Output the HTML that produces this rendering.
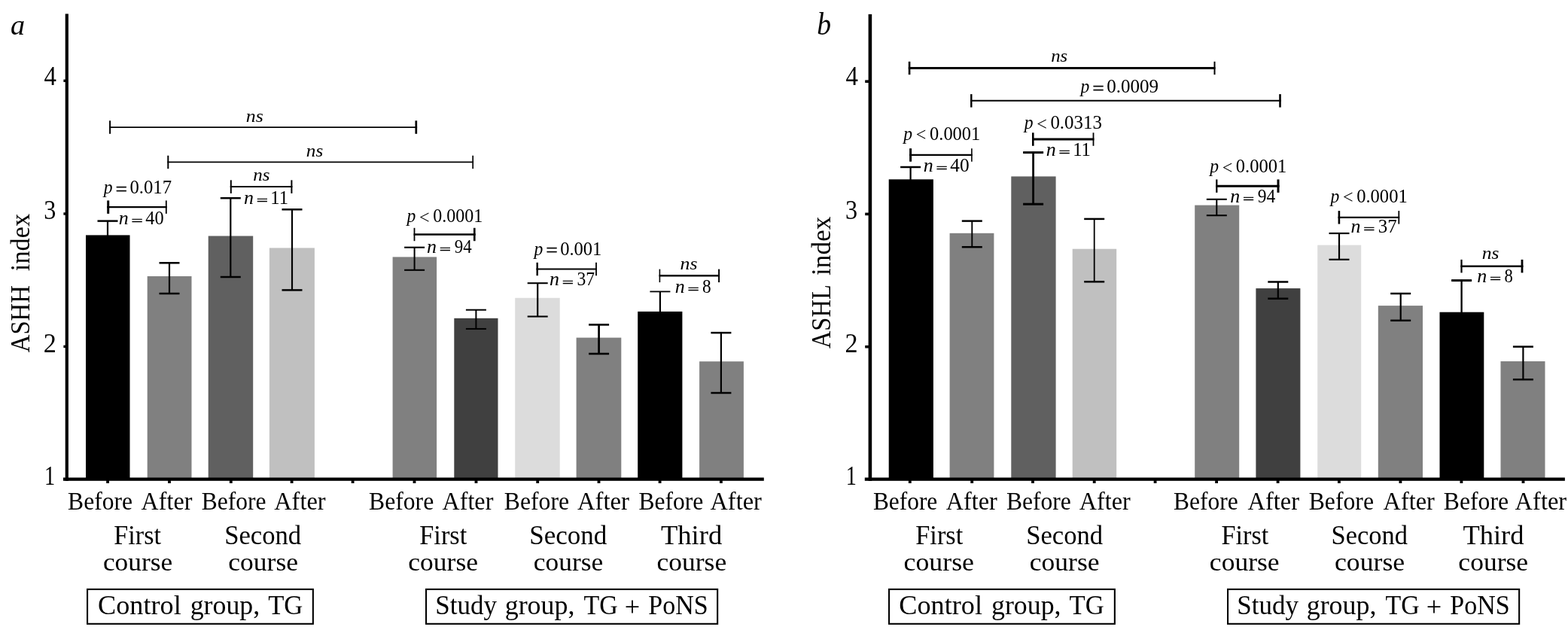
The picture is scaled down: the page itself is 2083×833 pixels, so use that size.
<!DOCTYPE html>
<html lang="en">
<head>
<meta charset="utf-8">
<title>ASHH and ASHL index charts</title>
<style>
html, body { margin: 0; padding: 0; background: #ffffff; }
body { width: 2083px; height: 833px; overflow: hidden; }
svg { display: block; }
svg text { font-family: "Liberation Serif", "DejaVu Serif", serif; fill: #000; }
</style>
</head>
<body>
<svg width="2083" height="833" viewBox="0 0 2083 833">
<rect x="0" y="0" width="2083" height="833" fill="#ffffff"/>
<rect x="114.0" y="312.4" width="58.5" height="323.4" fill="#000000"/>
<rect x="195.7" y="367.0" width="58.8" height="268.8" fill="#808080"/>
<rect x="276.7" y="313.5" width="59.5" height="322.3" fill="#606060"/>
<rect x="357.9" y="329.4" width="60.0" height="306.4" fill="#c0c0c0"/>
<rect x="521.6" y="341.4" width="58.5" height="294.4" fill="#808080"/>
<rect x="603.3" y="422.8" width="58.2" height="213.0" fill="#404040"/>
<rect x="684.2" y="395.8" width="59.5" height="240.0" fill="#dcdcdc"/>
<rect x="765.6" y="448.6" width="59.7" height="187.2" fill="#808080"/>
<rect x="847.2" y="413.9" width="59.2" height="221.9" fill="#000000"/>
<rect x="929.1" y="480.2" width="58.8" height="155.6" fill="#808080"/>
<rect x="1180.7" y="238.3" width="59.2" height="397.5" fill="#000000"/>
<rect x="1261.6" y="309.8" width="58.8" height="326.0" fill="#808080"/>
<rect x="1343.3" y="234.4" width="59.3" height="401.4" fill="#606060"/>
<rect x="1424.7" y="330.7" width="58.5" height="305.1" fill="#c0c0c0"/>
<rect x="1587.2" y="272.6" width="59.0" height="363.2" fill="#808080"/>
<rect x="1668.4" y="383.1" width="59.0" height="252.7" fill="#404040"/>
<rect x="1750.2" y="325.6" width="58.0" height="310.2" fill="#dcdcdc"/>
<rect x="1830.8" y="406.1" width="59.2" height="229.7" fill="#808080"/>
<rect x="1912.5" y="414.7" width="58.8" height="221.1" fill="#000000"/>
<rect x="1993.5" y="480.0" width="59.0" height="155.8" fill="#808080"/>
<rect x="86.7" y="18.4" width="4.2" height="620.6" fill="#000000"/>
<rect x="84.0" y="634.5" width="930.8" height="4.3" fill="#000000"/>
<rect x="84.4" y="105.6" width="3.6" height="3.4" fill="#000000"/>
<rect x="84.4" y="282.3" width="3.6" height="3.4" fill="#000000"/>
<rect x="84.4" y="458.7" width="3.6" height="3.4" fill="#000000"/>
<rect x="141.2" y="638.0" width="3.8" height="4.0" fill="#000000"/>
<rect x="223.1" y="638.0" width="3.8" height="4.0" fill="#000000"/>
<rect x="304.9" y="638.0" width="3.8" height="4.0" fill="#000000"/>
<rect x="385.7" y="638.0" width="3.8" height="4.0" fill="#000000"/>
<rect x="466.7" y="638.0" width="3.8" height="4.0" fill="#000000"/>
<rect x="548.6" y="638.0" width="3.8" height="4.0" fill="#000000"/>
<rect x="630.6" y="638.0" width="3.8" height="4.0" fill="#000000"/>
<rect x="712.3" y="638.0" width="3.8" height="4.0" fill="#000000"/>
<rect x="793.6" y="638.0" width="3.8" height="4.0" fill="#000000"/>
<rect x="874.7" y="638.0" width="3.8" height="4.0" fill="#000000"/>
<rect x="956.0" y="638.0" width="3.8" height="4.0" fill="#000000"/>
<rect x="1153.6" y="18.9" width="4.6" height="620.1" fill="#000000"/>
<rect x="1148.8" y="634.5" width="930.1" height="4.3" fill="#000000"/>
<rect x="1149.2" y="106.4" width="5.8" height="3.6" fill="#000000"/>
<rect x="1149.2" y="282.6" width="5.8" height="3.6" fill="#000000"/>
<rect x="1149.2" y="458.9" width="5.8" height="3.6" fill="#000000"/>
<rect x="1206.9" y="638.0" width="3.8" height="4.0" fill="#000000"/>
<rect x="1289.3" y="638.0" width="3.8" height="4.0" fill="#000000"/>
<rect x="1370.1" y="638.0" width="3.8" height="4.0" fill="#000000"/>
<rect x="1451.8" y="638.0" width="3.8" height="4.0" fill="#000000"/>
<rect x="1532.7" y="638.0" width="3.8" height="4.0" fill="#000000"/>
<rect x="1614.2" y="638.0" width="3.8" height="4.0" fill="#000000"/>
<rect x="1695.7" y="638.0" width="3.8" height="4.0" fill="#000000"/>
<rect x="1777.0" y="638.0" width="3.8" height="4.0" fill="#000000"/>
<rect x="1858.5" y="638.0" width="3.8" height="4.0" fill="#000000"/>
<rect x="1939.5" y="638.0" width="3.8" height="4.0" fill="#000000"/>
<rect x="2021.6" y="638.0" width="3.8" height="4.0" fill="#000000"/>
<line x1="143.0" y1="293.6" x2="143.0" y2="313.4" stroke="#000" stroke-width="2.2"/>
<line x1="129.5" y1="293.6" x2="156.5" y2="293.6" stroke="#000" stroke-width="2.5"/>
<line x1="225.0" y1="349.3" x2="225.0" y2="390.0" stroke="#000" stroke-width="2.2"/>
<line x1="211.5" y1="349.3" x2="238.5" y2="349.3" stroke="#000" stroke-width="2.5"/>
<line x1="211.5" y1="390.0" x2="238.5" y2="390.0" stroke="#000" stroke-width="2.5"/>
<line x1="306.3" y1="263.2" x2="306.3" y2="368.0" stroke="#000" stroke-width="2.2"/>
<line x1="292.8" y1="263.2" x2="319.8" y2="263.2" stroke="#000" stroke-width="2.5"/>
<line x1="292.8" y1="368.0" x2="319.8" y2="368.0" stroke="#000" stroke-width="2.5"/>
<line x1="388.0" y1="278.3" x2="388.0" y2="385.4" stroke="#000" stroke-width="2.2"/>
<line x1="374.5" y1="278.3" x2="401.5" y2="278.3" stroke="#000" stroke-width="2.5"/>
<line x1="374.5" y1="385.4" x2="401.5" y2="385.4" stroke="#000" stroke-width="2.5"/>
<line x1="550.6" y1="328.7" x2="550.6" y2="358.8" stroke="#000" stroke-width="2.0"/>
<line x1="537.1" y1="328.7" x2="564.1" y2="328.7" stroke="#000" stroke-width="2.1"/>
<line x1="537.1" y1="358.8" x2="564.1" y2="358.8" stroke="#000" stroke-width="2.1"/>
<line x1="632.4" y1="411.7" x2="632.4" y2="436.9" stroke="#000" stroke-width="2.0"/>
<line x1="618.9" y1="411.7" x2="645.9" y2="411.7" stroke="#000" stroke-width="2.0"/>
<line x1="618.9" y1="436.9" x2="645.9" y2="436.9" stroke="#000" stroke-width="2.0"/>
<line x1="714.2" y1="376.2" x2="714.2" y2="420.5" stroke="#000" stroke-width="2.2"/>
<line x1="700.7" y1="376.2" x2="727.7" y2="376.2" stroke="#000" stroke-width="2.1"/>
<line x1="700.7" y1="420.5" x2="727.7" y2="420.5" stroke="#000" stroke-width="2.1"/>
<line x1="795.6" y1="431.4" x2="795.6" y2="470.0" stroke="#000" stroke-width="2.7"/>
<line x1="782.1" y1="431.4" x2="809.1" y2="431.4" stroke="#000" stroke-width="2.6"/>
<line x1="782.1" y1="470.0" x2="809.1" y2="470.0" stroke="#000" stroke-width="2.6"/>
<line x1="876.9" y1="387.4" x2="876.9" y2="414.9" stroke="#000" stroke-width="2.2"/>
<line x1="863.4" y1="387.4" x2="890.4" y2="387.4" stroke="#000" stroke-width="1.8"/>
<line x1="957.9" y1="442.1" x2="957.9" y2="522.0" stroke="#000" stroke-width="2.2"/>
<line x1="944.4" y1="442.1" x2="971.4" y2="442.1" stroke="#000" stroke-width="2.5"/>
<line x1="944.4" y1="522.0" x2="971.4" y2="522.0" stroke="#000" stroke-width="2.5"/>
<line x1="1209.6" y1="222.0" x2="1209.6" y2="239.3" stroke="#000" stroke-width="2.2"/>
<line x1="1196.1" y1="222.0" x2="1223.1" y2="222.0" stroke="#000" stroke-width="2.5"/>
<line x1="1291.3" y1="293.6" x2="1291.3" y2="328.2" stroke="#000" stroke-width="1.9"/>
<line x1="1277.8" y1="293.6" x2="1304.8" y2="293.6" stroke="#000" stroke-width="2.5"/>
<line x1="1277.8" y1="328.2" x2="1304.8" y2="328.2" stroke="#000" stroke-width="2.5"/>
<line x1="1372.6" y1="202.6" x2="1372.6" y2="271.2" stroke="#000" stroke-width="2.8"/>
<line x1="1359.1" y1="202.6" x2="1386.1" y2="202.6" stroke="#000" stroke-width="3.0"/>
<line x1="1359.1" y1="271.2" x2="1386.1" y2="271.2" stroke="#000" stroke-width="3.0"/>
<line x1="1453.7" y1="290.9" x2="1453.7" y2="374.3" stroke="#000" stroke-width="1.8"/>
<line x1="1440.2" y1="290.9" x2="1467.2" y2="290.9" stroke="#000" stroke-width="2.5"/>
<line x1="1440.2" y1="374.3" x2="1467.2" y2="374.3" stroke="#000" stroke-width="2.5"/>
<line x1="1616.3" y1="264.8" x2="1616.3" y2="286.2" stroke="#000" stroke-width="2.0"/>
<line x1="1602.8" y1="264.8" x2="1629.8" y2="264.8" stroke="#000" stroke-width="2.1"/>
<line x1="1602.8" y1="286.2" x2="1629.8" y2="286.2" stroke="#000" stroke-width="2.1"/>
<line x1="1697.8" y1="374.5" x2="1697.8" y2="396.7" stroke="#000" stroke-width="2.2"/>
<line x1="1684.3" y1="374.5" x2="1711.3" y2="374.5" stroke="#000" stroke-width="2.5"/>
<line x1="1684.3" y1="396.7" x2="1711.3" y2="396.7" stroke="#000" stroke-width="2.5"/>
<line x1="1779.0" y1="310.0" x2="1779.0" y2="344.8" stroke="#000" stroke-width="2.2"/>
<line x1="1765.5" y1="310.0" x2="1792.5" y2="310.0" stroke="#000" stroke-width="2.2"/>
<line x1="1765.5" y1="344.8" x2="1792.5" y2="344.8" stroke="#000" stroke-width="2.2"/>
<line x1="1860.7" y1="390.0" x2="1860.7" y2="425.8" stroke="#000" stroke-width="2.2"/>
<line x1="1847.2" y1="390.0" x2="1874.2" y2="390.0" stroke="#000" stroke-width="2.5"/>
<line x1="1847.2" y1="425.8" x2="1874.2" y2="425.8" stroke="#000" stroke-width="2.5"/>
<line x1="1941.6" y1="372.6" x2="1941.6" y2="415.7" stroke="#000" stroke-width="2.3"/>
<line x1="1928.1" y1="372.6" x2="1955.1" y2="372.6" stroke="#000" stroke-width="3.0"/>
<line x1="2023.4" y1="460.6" x2="2023.4" y2="504.2" stroke="#000" stroke-width="2.2"/>
<line x1="2009.9" y1="460.6" x2="2036.9" y2="460.6" stroke="#000" stroke-width="2.5"/>
<line x1="2009.9" y1="504.2" x2="2036.9" y2="504.2" stroke="#000" stroke-width="2.5"/>
<line x1="145.1" y1="169.1" x2="554.1" y2="169.1" stroke="#000" stroke-width="1.9"/>
<line x1="146.1" y1="160.3" x2="146.1" y2="177.8" stroke="#000" stroke-width="2.0"/>
<line x1="552.8" y1="160.3" x2="552.8" y2="177.8" stroke="#000" stroke-width="2.7"/>
<line x1="222.3" y1="215.4" x2="629.1" y2="215.4" stroke="#000" stroke-width="1.9"/>
<line x1="223.3" y1="206.7" x2="223.3" y2="224.2" stroke="#000" stroke-width="2.0"/>
<line x1="628.2" y1="206.7" x2="628.2" y2="224.2" stroke="#000" stroke-width="1.7"/>
<line x1="305.8" y1="248.1" x2="388.4" y2="248.1" stroke="#000" stroke-width="2.0"/>
<line x1="306.8" y1="239.3" x2="306.8" y2="256.9" stroke="#000" stroke-width="2.0"/>
<line x1="387.4" y1="239.3" x2="387.4" y2="256.9" stroke="#000" stroke-width="2.0"/>
<line x1="142.2" y1="275.2" x2="221.7" y2="275.2" stroke="#000" stroke-width="2.3"/>
<line x1="143.7" y1="266.4" x2="143.7" y2="283.9" stroke="#000" stroke-width="3.0"/>
<line x1="220.8" y1="266.4" x2="220.8" y2="283.9" stroke="#000" stroke-width="1.8"/>
<line x1="549.6" y1="311.5" x2="631.6" y2="311.5" stroke="#000" stroke-width="2.6"/>
<line x1="550.5" y1="302.8" x2="550.5" y2="320.2" stroke="#000" stroke-width="1.8"/>
<line x1="630.3" y1="302.8" x2="630.3" y2="320.2" stroke="#000" stroke-width="2.6"/>
<line x1="712.5" y1="357.5" x2="792.9" y2="357.5" stroke="#000" stroke-width="2.2"/>
<line x1="713.7" y1="348.8" x2="713.7" y2="366.2" stroke="#000" stroke-width="2.4"/>
<line x1="792.0" y1="348.8" x2="792.0" y2="366.2" stroke="#000" stroke-width="1.8"/>
<line x1="875.6" y1="366.3" x2="956.1" y2="366.3" stroke="#000" stroke-width="2.6"/>
<line x1="876.4" y1="357.6" x2="876.4" y2="375.1" stroke="#000" stroke-width="1.6"/>
<line x1="955.1" y1="357.6" x2="955.1" y2="375.1" stroke="#000" stroke-width="2.0"/>
<line x1="1206.8" y1="90.5" x2="1614.5" y2="90.5" stroke="#000" stroke-width="3.0"/>
<line x1="1208.1" y1="81.8" x2="1208.1" y2="99.2" stroke="#000" stroke-width="2.6"/>
<line x1="1613.5" y1="81.8" x2="1613.5" y2="99.2" stroke="#000" stroke-width="2.0"/>
<line x1="1289.1" y1="133.8" x2="1701.8" y2="133.8" stroke="#000" stroke-width="2.0"/>
<line x1="1290.3" y1="125.1" x2="1290.3" y2="142.6" stroke="#000" stroke-width="2.4"/>
<line x1="1700.5" y1="125.1" x2="1700.5" y2="142.6" stroke="#000" stroke-width="2.6"/>
<line x1="1208.1" y1="205.9" x2="1291.7" y2="205.9" stroke="#000" stroke-width="2.2"/>
<line x1="1209.6" y1="197.2" x2="1209.6" y2="214.7" stroke="#000" stroke-width="3.0"/>
<line x1="1290.9" y1="197.2" x2="1290.9" y2="214.7" stroke="#000" stroke-width="1.6"/>
<line x1="1371.0" y1="185.1" x2="1453.4" y2="185.1" stroke="#000" stroke-width="3.0"/>
<line x1="1372.3" y1="176.3" x2="1372.3" y2="193.8" stroke="#000" stroke-width="2.6"/>
<line x1="1452.5" y1="176.3" x2="1452.5" y2="193.8" stroke="#000" stroke-width="1.8"/>
<line x1="1615.2" y1="247.2" x2="1699.5" y2="247.2" stroke="#000" stroke-width="3.0"/>
<line x1="1616.3" y1="238.4" x2="1616.3" y2="255.9" stroke="#000" stroke-width="2.2"/>
<line x1="1698.0" y1="238.4" x2="1698.0" y2="255.9" stroke="#000" stroke-width="3.0"/>
<line x1="1777.6" y1="288.8" x2="1859.2" y2="288.8" stroke="#000" stroke-width="2.2"/>
<line x1="1778.9" y1="280.1" x2="1778.9" y2="297.6" stroke="#000" stroke-width="2.6"/>
<line x1="1858.3" y1="280.1" x2="1858.3" y2="297.6" stroke="#000" stroke-width="1.8"/>
<line x1="1940.4" y1="353.7" x2="2023.4" y2="353.7" stroke="#000" stroke-width="2.4"/>
<line x1="1941.5" y1="344.9" x2="1941.5" y2="362.4" stroke="#000" stroke-width="2.2"/>
<line x1="2022.0" y1="344.9" x2="2022.0" y2="362.4" stroke="#000" stroke-width="2.8"/>
<text x="326.89" y="161.60" font-size="23" textLength="22.98" lengthAdjust="spacingAndGlyphs"><tspan font-style="italic">ns</tspan></text>
<text x="406.81" y="207.70" font-size="23" textLength="22.44" lengthAdjust="spacingAndGlyphs"><tspan font-style="italic">ns</tspan></text>
<text x="336.22" y="240.30" font-size="23" textLength="22.23" lengthAdjust="spacingAndGlyphs"><tspan font-style="italic">ns</tspan></text>
<text><tspan x="137.77" y="257.20" font-size="26" font-style="italic" textLength="11.79" lengthAdjust="spacingAndGlyphs">p</tspan> <tspan x="153.50" y="259.00" font-size="22.3" stroke="#000" stroke-width="0.3" textLength="15.64" lengthAdjust="spacingAndGlyphs">=</tspan> <tspan x="172.43" y="257.20" font-size="25.3" textLength="55.56" lengthAdjust="spacingAndGlyphs">0.017</tspan></text>
<text><tspan x="157.89" y="297.50" font-size="25" font-style="italic" textLength="12.97" lengthAdjust="spacingAndGlyphs">n</tspan> <tspan x="174.64" y="298.70" font-size="16.5" stroke="#000" stroke-width="0.45" textLength="15.16" lengthAdjust="spacingAndGlyphs">=</tspan> <tspan x="193.32" y="297.50" font-size="24.3" textLength="24.34" lengthAdjust="spacingAndGlyphs">40</tspan></text>
<text><tspan x="324.09" y="270.50" font-size="25" font-style="italic" textLength="12.97" lengthAdjust="spacingAndGlyphs">n</tspan> <tspan x="340.84" y="271.70" font-size="16.5" stroke="#000" stroke-width="0.45" textLength="15.16" lengthAdjust="spacingAndGlyphs">=</tspan> <tspan x="359.38" y="270.50" font-size="24.3" textLength="23.67" lengthAdjust="spacingAndGlyphs">11</tspan></text>
<text><tspan x="540.57" y="295.00" font-size="26" font-style="italic" textLength="11.79" lengthAdjust="spacingAndGlyphs">p</tspan> <tspan x="557.07" y="296.50" font-size="25.3" textLength="13.60" lengthAdjust="spacingAndGlyphs">&lt;</tspan> <tspan x="575.25" y="295.00" font-size="25.3" textLength="66.08" lengthAdjust="spacingAndGlyphs">0.0001</tspan></text>
<text><tspan x="566.99" y="335.60" font-size="25" font-style="italic" textLength="12.97" lengthAdjust="spacingAndGlyphs">n</tspan> <tspan x="583.74" y="336.80" font-size="16.5" stroke="#000" stroke-width="0.45" textLength="15.16" lengthAdjust="spacingAndGlyphs">=</tspan> <tspan x="603.68" y="335.60" font-size="24.3" textLength="22.98" lengthAdjust="spacingAndGlyphs">94</tspan></text>
<text><tspan x="709.47" y="338.60" font-size="26" font-style="italic" textLength="11.79" lengthAdjust="spacingAndGlyphs">p</tspan> <tspan x="725.20" y="340.40" font-size="22.3" stroke="#000" stroke-width="0.3" textLength="15.64" lengthAdjust="spacingAndGlyphs">=</tspan> <tspan x="744.13" y="338.60" font-size="25.3" textLength="55.22" lengthAdjust="spacingAndGlyphs">0.001</tspan></text>
<text><tspan x="730.09" y="379.40" font-size="25" font-style="italic" textLength="12.97" lengthAdjust="spacingAndGlyphs">n</tspan> <tspan x="746.84" y="380.60" font-size="16.5" stroke="#000" stroke-width="0.45" textLength="15.16" lengthAdjust="spacingAndGlyphs">=</tspan> <tspan x="766.39" y="379.40" font-size="24.3" textLength="23.57" lengthAdjust="spacingAndGlyphs">37</tspan></text>
<text x="903.59" y="357.90" font-size="23" textLength="22.98" lengthAdjust="spacingAndGlyphs"><tspan font-style="italic">ns</tspan></text>
<text><tspan x="896.79" y="388.70" font-size="25" font-style="italic" textLength="12.97" lengthAdjust="spacingAndGlyphs">n</tspan> <tspan x="913.54" y="389.90" font-size="16.5" stroke="#000" stroke-width="0.45" textLength="15.16" lengthAdjust="spacingAndGlyphs">=</tspan> <tspan x="933.07" y="388.70" font-size="24.3" textLength="11.66" lengthAdjust="spacingAndGlyphs">8</tspan></text>
<text x="1396.23" y="81.60" font-size="23" textLength="22.01" lengthAdjust="spacingAndGlyphs"><tspan font-style="italic">ns</tspan></text>
<text><tspan x="1435.57" y="123.20" font-size="26" font-style="italic" textLength="11.79" lengthAdjust="spacingAndGlyphs">p</tspan> <tspan x="1451.30" y="125.00" font-size="22.3" stroke="#000" stroke-width="0.3" textLength="15.64" lengthAdjust="spacingAndGlyphs">=</tspan> <tspan x="1470.22" y="123.20" font-size="25.3" textLength="68.87" lengthAdjust="spacingAndGlyphs">0.0009</tspan></text>
<text><tspan x="1200.37" y="185.70" font-size="26" font-style="italic" textLength="11.79" lengthAdjust="spacingAndGlyphs">p</tspan> <tspan x="1216.87" y="187.20" font-size="25.3" textLength="13.60" lengthAdjust="spacingAndGlyphs">&lt;</tspan> <tspan x="1235.04" y="185.70" font-size="25.3" textLength="67.31" lengthAdjust="spacingAndGlyphs">0.0001</tspan></text>
<text><tspan x="1226.79" y="227.80" font-size="25" font-style="italic" textLength="12.97" lengthAdjust="spacingAndGlyphs">n</tspan> <tspan x="1243.54" y="229.00" font-size="16.5" stroke="#000" stroke-width="0.45" textLength="15.16" lengthAdjust="spacingAndGlyphs">=</tspan> <tspan x="1262.20" y="227.80" font-size="24.3" textLength="25.39" lengthAdjust="spacingAndGlyphs">40</tspan></text>
<text><tspan x="1360.77" y="171.10" font-size="26" font-style="italic" textLength="11.79" lengthAdjust="spacingAndGlyphs">p</tspan> <tspan x="1377.27" y="172.60" font-size="25.3" textLength="13.60" lengthAdjust="spacingAndGlyphs">&lt;</tspan> <tspan x="1395.42" y="171.10" font-size="25.3" textLength="68.46" lengthAdjust="spacingAndGlyphs">0.0313</tspan></text>
<text><tspan x="1389.89" y="207.00" font-size="25" font-style="italic" textLength="12.97" lengthAdjust="spacingAndGlyphs">n</tspan> <tspan x="1406.64" y="208.20" font-size="16.5" stroke="#000" stroke-width="0.45" textLength="15.16" lengthAdjust="spacingAndGlyphs">=</tspan> <tspan x="1425.17" y="207.00" font-size="24.3" textLength="23.79" lengthAdjust="spacingAndGlyphs">11</tspan></text>
<text><tspan x="1607.17" y="229.00" font-size="26" font-style="italic" textLength="11.79" lengthAdjust="spacingAndGlyphs">p</tspan> <tspan x="1623.67" y="230.50" font-size="25.3" textLength="13.60" lengthAdjust="spacingAndGlyphs">&lt;</tspan> <tspan x="1641.84" y="229.00" font-size="25.3" textLength="67.31" lengthAdjust="spacingAndGlyphs">0.0001</tspan></text>
<text><tspan x="1634.19" y="268.60" font-size="25" font-style="italic" textLength="12.97" lengthAdjust="spacingAndGlyphs">n</tspan> <tspan x="1650.94" y="269.80" font-size="16.5" stroke="#000" stroke-width="0.45" textLength="15.16" lengthAdjust="spacingAndGlyphs">=</tspan> <tspan x="1670.87" y="268.60" font-size="24.3" textLength="23.50" lengthAdjust="spacingAndGlyphs">94</tspan></text>
<text><tspan x="1767.47" y="268.60" font-size="26" font-style="italic" textLength="11.79" lengthAdjust="spacingAndGlyphs">p</tspan> <tspan x="1783.97" y="270.10" font-size="25.3" textLength="13.60" lengthAdjust="spacingAndGlyphs">&lt;</tspan> <tspan x="1802.13" y="268.60" font-size="25.3" textLength="67.62" lengthAdjust="spacingAndGlyphs">0.0001</tspan></text>
<text><tspan x="1794.59" y="309.00" font-size="25" font-style="italic" textLength="12.97" lengthAdjust="spacingAndGlyphs">n</tspan> <tspan x="1811.34" y="310.20" font-size="16.5" stroke="#000" stroke-width="0.45" textLength="15.16" lengthAdjust="spacingAndGlyphs">=</tspan> <tspan x="1830.83" y="309.00" font-size="24.3" textLength="24.96" lengthAdjust="spacingAndGlyphs">37</tspan></text>
<text x="1968.70" y="343.90" font-size="23" textLength="22.76" lengthAdjust="spacingAndGlyphs"><tspan font-style="italic">ns</tspan></text>
<text><tspan x="1962.19" y="374.70" font-size="25" font-style="italic" textLength="12.97" lengthAdjust="spacingAndGlyphs">n</tspan> <tspan x="1978.94" y="375.90" font-size="16.5" stroke="#000" stroke-width="0.45" textLength="15.16" lengthAdjust="spacingAndGlyphs">=</tspan> <tspan x="1998.49" y="374.70" font-size="24.3" textLength="11.31" lengthAdjust="spacingAndGlyphs">8</tspan></text>
<text x="13.90" y="46.30" font-size="38" textLength="19.09" lengthAdjust="spacingAndGlyphs"><tspan font-style="italic">a</tspan></text>
<text x="1085.23" y="46.40" font-size="41.5" textLength="18.76" lengthAdjust="spacingAndGlyphs"><tspan font-style="italic">b</tspan></text>
<text x="58.49" y="112.80" font-size="35" textLength="16.43" lengthAdjust="spacingAndGlyphs">4</text>
<text x="58.19" y="291.00" font-size="35" textLength="16.12" lengthAdjust="spacingAndGlyphs">3</text>
<text x="57.83" y="467.80" font-size="35" textLength="17.07" lengthAdjust="spacingAndGlyphs">2</text>
<text x="58.99" y="644.00" font-size="35" textLength="14.13" lengthAdjust="spacingAndGlyphs">1</text>
<text x="1123.39" y="112.80" font-size="35" textLength="16.43" lengthAdjust="spacingAndGlyphs">4</text>
<text x="1122.89" y="291.00" font-size="35" textLength="16.12" lengthAdjust="spacingAndGlyphs">3</text>
<text x="1122.53" y="467.80" font-size="35" textLength="17.07" lengthAdjust="spacingAndGlyphs">2</text>
<text x="1123.79" y="643.90" font-size="35" textLength="14.13" lengthAdjust="spacingAndGlyphs">1</text>
<text transform="rotate(-90)"><tspan x="-468.20" y="38.90" font-size="35" textLength="89.02" lengthAdjust="spacingAndGlyphs">ASHH</tspan> <tspan x="-360.14" y="38.90" font-size="35" textLength="76.24" lengthAdjust="spacingAndGlyphs">index</tspan></text>
<text transform="rotate(-90)"><tspan x="-463.10" y="1102.80" font-size="35" textLength="84.87" lengthAdjust="spacingAndGlyphs">ASHL</tspan> <tspan x="-365.95" y="1102.80" font-size="35" textLength="78.25" lengthAdjust="spacingAndGlyphs">index</tspan></text>
<text x="90.11" y="676.80" font-size="33.3" textLength="85.89" lengthAdjust="spacingAndGlyphs">Before</text>
<text x="187.60" y="676.80" font-size="33.3" textLength="67.76" lengthAdjust="spacingAndGlyphs">After</text>
<text x="267.81" y="676.80" font-size="33.3" textLength="85.68" lengthAdjust="spacingAndGlyphs">Before</text>
<text x="364.20" y="676.80" font-size="33.3" textLength="68.46" lengthAdjust="spacingAndGlyphs">After</text>
<text x="490.01" y="676.80" font-size="33.3" textLength="86.19" lengthAdjust="spacingAndGlyphs">Before</text>
<text x="587.50" y="676.80" font-size="33.3" textLength="67.86" lengthAdjust="spacingAndGlyphs">After</text>
<text x="669.81" y="676.80" font-size="33.3" textLength="86.19" lengthAdjust="spacingAndGlyphs">Before</text>
<text x="767.00" y="676.80" font-size="33.3" textLength="68.96" lengthAdjust="spacingAndGlyphs">After</text>
<text x="848.41" y="676.80" font-size="33.3" textLength="85.89" lengthAdjust="spacingAndGlyphs">Before</text>
<text x="943.40" y="676.80" font-size="33.3" textLength="68.56" lengthAdjust="spacingAndGlyphs">After</text>
<text x="1159.91" y="676.80" font-size="33.3" textLength="85.38" lengthAdjust="spacingAndGlyphs">Before</text>
<text x="1256.70" y="676.80" font-size="33.3" textLength="68.16" lengthAdjust="spacingAndGlyphs">After</text>
<text x="1336.91" y="676.80" font-size="33.3" textLength="85.99" lengthAdjust="spacingAndGlyphs">Before</text>
<text x="1433.70" y="676.80" font-size="33.3" textLength="68.06" lengthAdjust="spacingAndGlyphs">After</text>
<text x="1559.11" y="676.80" font-size="33.3" textLength="85.68" lengthAdjust="spacingAndGlyphs">Before</text>
<text x="1657.60" y="676.80" font-size="33.3" textLength="68.36" lengthAdjust="spacingAndGlyphs">After</text>
<text x="1738.70" y="676.80" font-size="33.3" textLength="86.29" lengthAdjust="spacingAndGlyphs">Before</text>
<text x="1837.60" y="676.80" font-size="33.3" textLength="68.26" lengthAdjust="spacingAndGlyphs">After</text>
<text x="1917.81" y="676.80" font-size="33.3" textLength="86.19" lengthAdjust="spacingAndGlyphs">Before</text>
<text x="2012.60" y="676.80" font-size="33.3" textLength="68.56" lengthAdjust="spacingAndGlyphs">After</text>
<text x="151.37" y="722.90" font-size="35.5" textLength="62.62" lengthAdjust="spacingAndGlyphs">First</text>
<text x="136.90" y="758.10" font-size="33.2" textLength="92.18" lengthAdjust="spacingAndGlyphs">course</text>
<text x="298.13" y="722.90" font-size="35.5" textLength="102.07" lengthAdjust="spacingAndGlyphs">Second</text>
<text x="303.29" y="758.10" font-size="33.2" textLength="92.69" lengthAdjust="spacingAndGlyphs">course</text>
<text x="557.26" y="722.90" font-size="35.5" textLength="63.02" lengthAdjust="spacingAndGlyphs">First</text>
<text x="542.39" y="758.10" font-size="33.2" textLength="92.59" lengthAdjust="spacingAndGlyphs">course</text>
<text x="703.21" y="722.90" font-size="35.5" textLength="103.09" lengthAdjust="spacingAndGlyphs">Second</text>
<text x="708.79" y="758.10" font-size="33.2" textLength="92.49" lengthAdjust="spacingAndGlyphs">course</text>
<text x="877.93" y="722.90" font-size="35.5" textLength="81.27" lengthAdjust="spacingAndGlyphs">Third</text>
<text x="872.49" y="758.10" font-size="33.2" textLength="92.69" lengthAdjust="spacingAndGlyphs">course</text>
<text x="1216.26" y="722.90" font-size="35.5" textLength="63.02" lengthAdjust="spacingAndGlyphs">First</text>
<text x="1200.58" y="758.10" font-size="33.2" textLength="93.40" lengthAdjust="spacingAndGlyphs">course</text>
<text x="1363.24" y="722.90" font-size="35.5" textLength="101.86" lengthAdjust="spacingAndGlyphs">Second</text>
<text x="1367.79" y="758.10" font-size="33.2" textLength="92.79" lengthAdjust="spacingAndGlyphs">course</text>
<text x="1622.57" y="722.90" font-size="35.5" textLength="62.72" lengthAdjust="spacingAndGlyphs">First</text>
<text x="1606.89" y="758.10" font-size="33.2" textLength="92.69" lengthAdjust="spacingAndGlyphs">course</text>
<text x="1768.55" y="722.90" font-size="35.5" textLength="101.35" lengthAdjust="spacingAndGlyphs">Second</text>
<text x="1772.98" y="758.10" font-size="33.2" textLength="93.20" lengthAdjust="spacingAndGlyphs">course</text>
<text x="1943.53" y="722.90" font-size="35.5" textLength="80.97" lengthAdjust="spacingAndGlyphs">Third</text>
<text x="1937.39" y="758.10" font-size="33.2" textLength="92.69" lengthAdjust="spacingAndGlyphs">course</text>
<rect x="116.05" y="782.9" width="299.80" height="45.9" fill="none" stroke="#000" stroke-width="2.1"/>
<text><tspan x="130.07" y="815.90" font-size="36.4" textLength="110.67" lengthAdjust="spacingAndGlyphs">Control</tspan> <tspan x="252.68" y="815.90" font-size="36.4" textLength="92.56" lengthAdjust="spacingAndGlyphs">group,</tspan> <tspan x="356.16" y="815.90" font-size="36.4" textLength="46.30" lengthAdjust="spacingAndGlyphs">TG</tspan></text>
<rect x="566.05" y="782.9" width="387.10" height="45.9" fill="none" stroke="#000" stroke-width="2.1"/>
<text><tspan x="578.32" y="815.90" font-size="36.4" textLength="81.58" lengthAdjust="spacingAndGlyphs">Study</tspan> <tspan x="670.68" y="815.90" font-size="36.4" textLength="92.77" lengthAdjust="spacingAndGlyphs">group,</tspan> <tspan x="775.47" y="815.90" font-size="36.4" textLength="45.28" lengthAdjust="spacingAndGlyphs">TG</tspan> <tspan x="829.70" y="817.90" font-size="36" textLength="20.45" lengthAdjust="spacingAndGlyphs">+</tspan> <tspan x="861.37" y="815.90" font-size="36.4" textLength="79.34" lengthAdjust="spacingAndGlyphs">PoNS</tspan></text>
<rect x="1181.05" y="782.9" width="299.80" height="45.9" fill="none" stroke="#000" stroke-width="2.1"/>
<text><tspan x="1194.37" y="815.90" font-size="36.4" textLength="110.67" lengthAdjust="spacingAndGlyphs">Control</tspan> <tspan x="1316.98" y="815.90" font-size="36.4" textLength="92.56" lengthAdjust="spacingAndGlyphs">group,</tspan> <tspan x="1420.46" y="815.90" font-size="36.4" textLength="46.30" lengthAdjust="spacingAndGlyphs">TG</tspan></text>
<rect x="1631.05" y="782.9" width="387.10" height="45.9" fill="none" stroke="#000" stroke-width="2.1"/>
<text><tspan x="1643.32" y="815.90" font-size="36.4" textLength="81.58" lengthAdjust="spacingAndGlyphs">Study</tspan> <tspan x="1735.68" y="815.90" font-size="36.4" textLength="92.77" lengthAdjust="spacingAndGlyphs">group,</tspan> <tspan x="1840.47" y="815.90" font-size="36.4" textLength="45.28" lengthAdjust="spacingAndGlyphs">TG</tspan> <tspan x="1894.70" y="817.90" font-size="36" textLength="20.45" lengthAdjust="spacingAndGlyphs">+</tspan> <tspan x="1926.37" y="815.90" font-size="36.4" textLength="79.34" lengthAdjust="spacingAndGlyphs">PoNS</tspan></text>
</svg>
</body>
</html>
